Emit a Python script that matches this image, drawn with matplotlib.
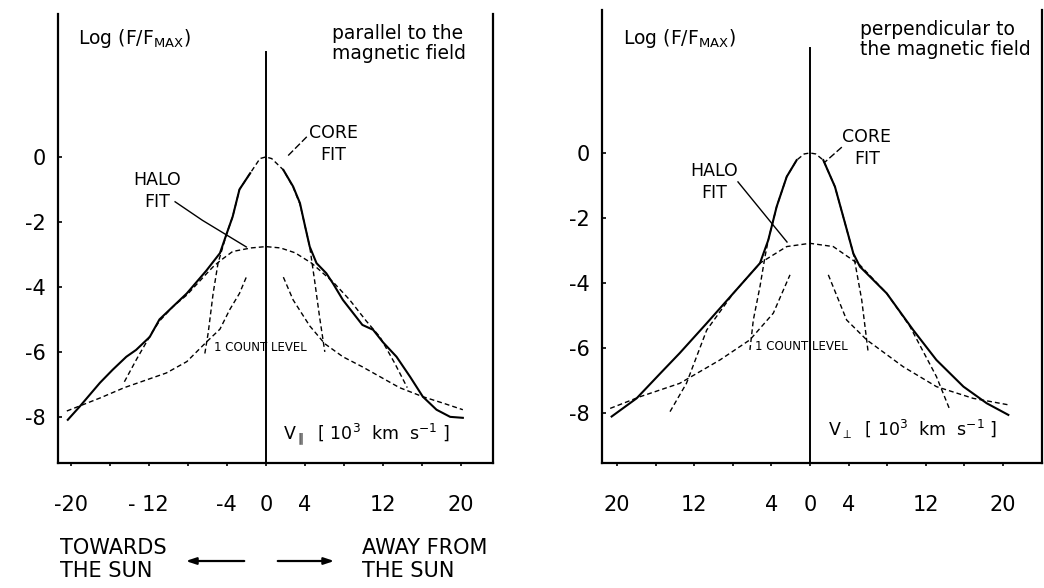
import matplotlib
matplotlib.use("Agg")
import matplotlib.pyplot as plt

# ---- data (x in 10^3 km/s, y = log F/Fmax) ----
# parallel panel
PAR_MEAS_L_X = [-20.3, -19.1, -17.0, -15.7, -14.3, -13.3, -11.9, -10.9, -8.8, -8.1,
                -6.1, -4.7, -4.0, -3.4, -2.7, -1.6]
PAR_MEAS_L_Y = [-8.09, -7.69, -6.95, -6.55, -6.15, -5.94, -5.54, -5.0, -4.4, -4.2,
                -3.5, -2.96, -2.35, -1.84, -1.0, -0.5]
PAR_MEAS_R_X = [1.8, 2.8, 3.5, 4.0, 4.5, 5.2, 6.2, 6.9, 7.9, 9.9, 11.0, 12.0, 13.4,
                14.8, 16.1, 17.5, 18.9, 20.2]
PAR_MEAS_R_Y = [-0.4, -0.91, -1.42, -2.1, -2.76, -3.27, -3.58, -3.9, -4.4, -5.17,
                -5.32, -5.7, -6.15, -6.77, -7.38, -7.78, -8.0, -8.03]
PAR_CORE_X = [-6.25, -5.9, -5.4, -4.9, -4.0, -3.4, -2.7, -1.6, -0.6, 0.0, 0.6, 1.8,
              2.8, 3.5, 4.0, 4.5, 5.0, 5.5, 6.05]
PAR_CORE_Y = [-6.05, -5.4, -4.2, -3.27, -2.35, -1.84, -1.0, -0.5, -0.05, 0.0, -0.05,
              -0.4, -0.93, -1.45, -2.1, -2.76, -3.8, -4.9, -6.0]
PAR_HALO_X = [-14.5, -13.2, -11.7, -10.9, -9.5, -8.1, -6.1, -5.4, -4.7, -3.4, -1.5,
              0.0, 1.5, 3.0, 4.7, 6.9, 8.6, 10.3, 11.7, 13.2, 14.5]
PAR_HALO_Y = [-6.92, -6.2, -5.42, -5.05, -4.6, -4.25, -3.6, -3.38, -3.2, -2.91, -2.8,
              -2.76, -2.8, -2.95, -3.27, -3.85, -4.4, -5.05, -5.54, -6.34, -7.1]
PAR_CNT_L_X = [-20.4, -17.0, -14.5, -10.2, -8.1, -6.1, -4.7, -3.7, -2.7, -2.0]
PAR_CNT_L_Y = [-7.82, -7.42, -7.1, -6.65, -6.3, -5.7, -5.3, -4.7, -4.2, -3.7]
PAR_CNT_R_X = [1.8, 2.8, 4.5, 6.05, 7.9, 9.9, 13.7, 16.1, 18.2, 20.2]
PAR_CNT_R_Y = [-3.7, -4.4, -5.2, -5.75, -6.15, -6.46, -7.1, -7.38, -7.58, -7.78]

# perpendicular panel
PER_MEAS_L_X = [-20.55, -17.96, -15.5, -13.5, -10.7, -7.95, -5.18, -4.32, -3.45,
                -2.41, -1.38]
PER_MEAS_L_Y = [-8.11, -7.55, -6.78, -6.16, -5.24, -4.32, -3.39, -2.68, -1.65,
                -0.73, -0.22]
PER_MEAS_R_X = [1.38, 2.59, 3.63, 4.49, 5.18, 7.95, 10.7, 13.1, 15.9, 18.3, 20.55]
PER_MEAS_R_Y = [-0.22, -1.04, -2.16, -3.09, -3.5, -4.32, -5.45, -6.37, -7.19, -7.7,
                -8.06]
PER_CORE_X = [-6.22, -5.87, -5.18, -4.66, -4.32, -3.45, -2.41, -1.38, -0.6, 0.0, 0.6,
              1.38, 2.59, 3.63, 4.49, 5.36, 6.04]
PER_CORE_Y = [-6.06, -5.14, -4.11, -3.19, -2.68, -1.65, -0.73, -0.22, -0.03, 0.0,
              -0.03, -0.22, -1.04, -2.16, -3.09, -4.52, -6.16]
PER_HALO_X = [-14.5, -12.8, -10.7, -7.95, -5.18, -2.41, 0.0, 2.41, 5.18, 7.95, 10.36,
              13.1, 14.5]
PER_HALO_Y = [-7.96, -7.09, -5.45, -4.32, -3.39, -2.88, -2.78, -2.88, -3.45, -4.32,
              -5.34, -6.88, -7.91]
PER_CNT_L_X = [-20.7, -17.6, -13.5, -9.33, -6.22, -3.8, -2.07]
PER_CNT_L_Y = [-7.86, -7.5, -7.09, -6.37, -5.75, -4.93, -3.75]
PER_CNT_R_X = [1.9, 3.8, 5.87, 9.67, 13.1, 16.9, 20.55]
PER_CNT_R_Y = [-3.75, -5.14, -5.75, -6.58, -7.19, -7.55, -7.75]

X_TICKS = [-20, -16, -12, -8, -4, 0, 4, 8, 12, 16, 20]
X_LABEL_POS = [-20, -12, -4, 0, 4, 12, 20]
PAR_X_LABELS = ["-20", "- 12", "-4", "0", "4", "12", "20"]
PER_X_LABELS = ["20", "12", "4", "0", "4", "12", "20"]
Y_TICKS = [0, -2, -4, -6, -8]
Y_LABELS = ["0", "-2", "-4", "-6", "-8"]

plt.rcParams["axes.unicode_minus"] = False
plt.rcParams["mathtext.default"] = "regular"
plt.rcParams["font.family"] = "DejaVu Sans"

DASH = (0, (3.5, 2.2))
FS = 13.5

fig = plt.figure(figsize=(10.44, 5.88), dpi=100)
ax1 = fig.add_axes([0.0556, 0.2126, 0.4167, 0.7636])
ax2 = fig.add_axes([0.5766, 0.2126, 0.4215, 0.7704])


def panel(ax, meas, core, halo, cnt, xlim, ylim, xlabels, logy, title, vlab,
          halo_txt, halo_lead, core_txt, core_lead, cnt_txt):
    ax.set_xlim(*xlim)
    ax.set_ylim(*ylim)
    for s in ["left", "bottom", "right"]:
        ax.spines[s].set_linewidth(1.6)
    ax.spines["top"].set_visible(False)
    # measured distribution (solid) and fits (dashed)
    for xs, ys in meas:
        ax.plot(xs, ys, color="black", lw=1.5)
    ax.plot(core[0], core[1], color="black", lw=1.0, ls=DASH)
    ax.plot(halo[0], halo[1], color="black", lw=1.0, ls=DASH)
    for xs, ys in cnt:
        ax.plot(xs, ys, color="black", lw=1.0, ls=DASH)
    ax.axvline(0, ymax=(3.23 - ylim[0]) / (ylim[1] - ylim[0]), color="black", lw=1.4)

    ax.set_xticks(X_TICKS)
    ax.set_xticklabels([xlabels[X_LABEL_POS.index(t)] if t in X_LABEL_POS else ""
                        for t in X_TICKS], fontsize=15)
    ax.tick_params(axis="x", direction="out", length=2, width=1.2, pad=21)
    ax.set_yticks(Y_TICKS)
    ax.set_yticklabels(Y_LABELS, fontsize=15)
    ax.tick_params(axis="y", direction="in", length=3, width=1.2, pad=9)

    ax.text(0.047, logy, "Log (F/F$_{MAX}$)", transform=ax.transAxes,
            fontsize=FS, va="center", ha="left")
    ax.text(title[0], 0.978, title[1], transform=ax.transAxes, fontsize=FS,
            va="top", ha="left", linespacing=1.1)
    ax.text(vlab[0], vlab[1], vlab[2], transform=ax.transAxes, fontsize=12.5,
            va="center", ha="left")
    ax.text(halo_txt[0], halo_txt[1], "HALO\nFIT", fontsize=12.5, ha="center",
            va="center", linespacing=1.3)
    ax.plot(halo_lead[0], halo_lead[1], color="black", lw=1.0)
    ax.text(core_txt[0], core_txt[1], "CORE\nFIT", fontsize=12.5, ha="center",
            va="center", linespacing=1.3)
    ax.plot(core_lead[0], core_lead[1], color="black", lw=1.0, ls=(0, (5, 2)))
    ax.text(cnt_txt[0], cnt_txt[1], "1 COUNT LEVEL", fontsize=8.5, ha="left",
            va="center")


panel(ax1,
      [(PAR_MEAS_L_X, PAR_MEAS_L_Y), (PAR_MEAS_R_X, PAR_MEAS_R_Y)],
      (PAR_CORE_X, PAR_CORE_Y), (PAR_HALO_X, PAR_HALO_Y),
      [(PAR_CNT_L_X, PAR_CNT_L_Y), (PAR_CNT_R_X, PAR_CNT_R_Y)],
      (-21.3, 23.3), (-9.42, 4.4), PAR_X_LABELS, 0.945,
      (0.63, "parallel to the\nmagnetic field"),
      (0.517, 0.065, r"V$_{\parallel}$  [ 10$^3$  km  s$^{-1}$ ]"),
      (-11.1, -1.05), ([-9.3, -6.5, -2.0], [-1.38, -1.95, -2.77]),
      (6.9, 0.4), ([4.2, 2.15], [0.62, 0.0]),
      (-5.3, -5.88))

panel(ax2,
      [(PER_MEAS_L_X, PER_MEAS_L_Y), (PER_MEAS_R_X, PER_MEAS_R_Y)],
      (PER_CORE_X, PER_CORE_Y), (PER_HALO_X, PER_HALO_Y),
      [(PER_CNT_L_X, PER_CNT_L_Y), (PER_CNT_R_X, PER_CNT_R_Y)],
      (-21.55, 24.04), (-9.54, 4.4), PER_X_LABELS, 0.938,
      (0.586, "perpendicular to\nthe magnetic field"),
      (0.514, 0.073, r"V$_{\perp}$  [ 10$^3$  km  s$^{-1}$ ]"),
      (-9.95, -0.9), ([-7.46, -2.38], [-0.89, -2.74]),
      (5.9, 0.15), ([3.3, 1.55], [0.18, -0.28]),
      (-5.7, -5.97))

# direction annotation under the left panel
fig.text(0.0575, 0.048, "TOWARDS\nTHE SUN", fontsize=15, ha="left", va="center",
         linespacing=1.2)
fig.text(0.347, 0.048, "AWAY FROM\nTHE SUN", fontsize=15, ha="left", va="center",
         linespacing=1.2)
ARROW = dict(arrowstyle="-|>,head_length=0.6,head_width=0.2", color="black", lw=1.6)
ax1.annotate("", xy=(0.1753, 0.0459), xytext=(0.2366, 0.0459),
             xycoords="figure fraction", textcoords="figure fraction",
             arrowprops=ARROW, annotation_clip=False)
ax1.annotate("", xy=(0.3228, 0.0459), xytext=(0.2634, 0.0459),
             xycoords="figure fraction", textcoords="figure fraction",
             arrowprops=ARROW, annotation_clip=False)

fig.savefig("out.png", dpi=100, facecolor="white")
